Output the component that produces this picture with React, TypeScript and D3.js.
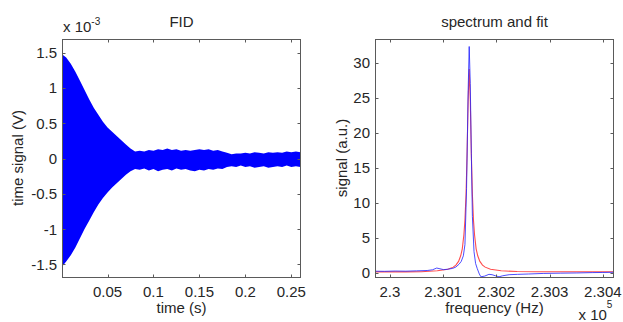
import React, { useEffect, useRef } from "react";
import * as d3 from "d3";

// FID envelope, time in s, signal in units of 1e-3 V
const fidTime = [
  0, 0.005, 0.01, 0.015, 0.02, 0.025, 0.03, 0.035, 0.04, 0.045, 0.05, 0.055, 0.06, 0.065, 0.07, 0.075, 0.08,
  0.085, 0.09, 0.095, 0.1, 0.105, 0.11, 0.115, 0.12, 0.125, 0.13, 0.135, 0.14, 0.145, 0.15, 0.155, 0.16,
  0.165, 0.17, 0.175, 0.18, 0.185, 0.19, 0.195, 0.2, 0.205, 0.21, 0.215, 0.22, 0.225, 0.23, 0.235, 0.24,
  0.245, 0.25, 0.255, 0.26,
];
const fidUpper = [
  1.48, 1.43, 1.34, 1.23, 1.1, 0.97, 0.84, 0.72, 0.62, 0.52, 0.44, 0.38, 0.32, 0.26, 0.2, 0.14, 0.1,
  0.11, 0.1, 0.12, 0.11, 0.13, 0.12, 0.14, 0.12, 0.13, 0.11, 0.12, 0.11, 0.12, 0.13, 0.12, 0.13,
  0.11, 0.12, 0.1, 0.08, 0.06, 0.07, 0.07, 0.08, 0.07, 0.09, 0.08, 0.07, 0.09, 0.08, 0.09, 0.08,
  0.1, 0.09, 0.1, 0.09,
];
const fidLower = [
  -1.54, -1.46, -1.37, -1.26, -1.13, -1.0, -0.88, -0.76, -0.65, -0.56, -0.48, -0.41, -0.35, -0.29, -0.23, -0.18, -0.15,
  -0.16, -0.14, -0.17, -0.15, -0.18, -0.16, -0.15, -0.17, -0.14, -0.16, -0.15, -0.17, -0.18, -0.16, -0.17, -0.15,
  -0.16, -0.14, -0.15, -0.12, -0.11, -0.12, -0.1, -0.12, -0.11, -0.13, -0.12, -0.11, -0.13, -0.12, -0.11, -0.12,
  -0.1, -0.12, -0.11, -0.12,
];
const fidXTicks = [0.05, 0.1, 0.15, 0.2, 0.25];
const fidYTicks = [-1.5, -1, -0.5, 0, 0.5, 1, 1.5];

// measured spectrum (blue)
const specFreq = [
  229972, 229990, 230010, 230030, 230050, 230070, 230080, 230088, 230094, 230101, 230110, 230118, 230124,
  230130, 230134, 230138, 230141, 230144, 230147, 230149, 230151, 230153, 230155, 230158, 230161, 230164,
  230168, 230171, 230178, 230186, 230192, 230198, 230205, 230212, 230224, 230240, 230260, 230288, 230320,
  230351, 230380, 230400, 230421,
];
const specValue = [
  0.2, 0.18, 0.22, 0.2, 0.25, 0.3, 0.4, 0.65, 0.55, 0.42, 0.5, 0.6, 0.8,
  1.2, 1.6, 2.4, 4, 12, 26, 32.3, 27, 17, 8, 3, 1.3, 0.6,
  -0.2, -0.6, -0.5, -0.25, -0.3, -0.45, -0.6, -0.45, -0.3, -0.25, -0.2, -0.12, -0.08,
  -0.05, 0, 0.02, 0.05,
];

// fitted line (red)
const fitFreq = [
  229972, 229999, 230029, 230059, 230089, 230109, 230119, 230124, 230129, 230133, 230136, 230139, 230141,
  230143, 230145, 230147, 230149, 230151, 230153, 230155, 230157, 230159, 230162, 230165, 230169, 230174,
  230179, 230189, 230209, 230239, 230279, 230329, 230379, 230421,
];
const fitValue = [
  0.1, 0.1, 0.1, 0.12, 0.26, 0.48, 0.78, 1.07, 1.6, 2.4, 3.4, 5.4, 7.5,
  11.1, 16.9, 24.6, 29.1, 24.6, 16.9, 11.1, 7.5, 5.4, 3.4, 2.4, 1.6, 1.07,
  0.78, 0.48, 0.26, 0.15, 0.13, 0.12, 0.12, 0.12,
];
const specXTicks = [230000, 230100, 230200, 230300, 230400];
const specYTicks = [0, 5, 10, 15, 20, 25, 30];

const W = 623;
const H = 322;
const FONT = "'Liberation Sans', Arial, sans-serif";
const FS = 15;
const TXT = "#262626";
const BOX = "#5a5a5a";

export default function App() {
  const ref = useRef<SVGSVGElement | null>(null);

  useEffect(() => {
    const svg = d3.select(ref.current);
    svg.selectAll("*").remove();

    const top = 39.5;
    const bottom = 277.5;

    // axes box with inward ticks on all four sides
    const drawFrame = (g: any, x: any, y: any, xt: number[], yt: number[], xfmt: (v: number) => string, yfmt: (v: number) => string) => {
      const [x0, x1] = x.range();
      const tl = 3;
      xt.forEach((v) => {
        const px = Math.round(x(v)) + 0.5;
        g.append("line").attr("x1", px).attr("x2", px).attr("y1", bottom).attr("y2", bottom - tl).attr("stroke", BOX);
        g.append("line").attr("x1", px).attr("x2", px).attr("y1", top).attr("y2", top + tl).attr("stroke", BOX);
        g.append("text")
          .attr("x", x(v))
          .attr("y", 296.5)
          .attr("text-anchor", "middle")
          .attr("font-size", FS)
          .attr("fill", TXT)
          .text(xfmt(v));
      });
      yt.forEach((v) => {
        const py = Math.round(y(v)) + 0.5;
        g.append("line").attr("x1", x0).attr("x2", x0 + tl).attr("y1", py).attr("y2", py).attr("stroke", BOX);
        g.append("line").attr("x1", x1).attr("x2", x1 - tl).attr("y1", py).attr("y2", py).attr("stroke", BOX);
        g.append("text")
          .attr("x", x0 - 5.5)
          .attr("y", y(v))
          .attr("dy", "0.36em")
          .attr("text-anchor", "end")
          .attr("font-size", FS)
          .attr("fill", TXT)
          .text(yfmt(v));
      });
      g.append("rect")
        .attr("x", x0)
        .attr("y", top)
        .attr("width", x1 - x0)
        .attr("height", bottom - top)
        .attr("fill", "none")
        .attr("stroke", BOX);
    };

    // ---- left: FID ----
    const xL = d3.scaleLinear().domain([0.001, 0.26]).range([62.5, 300.5]);
    const yL = d3.scaleLinear().domain([-1.685, 1.685]).range([bottom, top]);
    const gL = svg.append("g").attr("font-family", FONT);

    gL.append("clipPath").attr("id", "clipL").append("rect")
      .attr("x", 62.5).attr("y", top).attr("width", 238).attr("height", bottom - top);

    const fid = fidTime.map((t, i) => ({ t, hi: fidUpper[i], lo: fidLower[i] }));
    gL.append("path")
      .datum(fid)
      .attr("clip-path", "url(#clipL)")
      .attr("fill", "#0000ff")
      .attr("d", d3.area<any>().x((d) => xL(d.t)).y0((d) => yL(d.lo)).y1((d) => yL(d.hi)));

    drawFrame(gL, xL, yL, fidXTicks, fidYTicks, (v) => String(v), (v) => String(v));

    gL.append("text").attr("x", 181.5).attr("y", 26.5).attr("text-anchor", "middle")
      .attr("font-size", FS).attr("fill", TXT).text("FID");
    gL.append("text").attr("x", 181.5).attr("y", 313).attr("text-anchor", "middle")
      .attr("font-size", FS).attr("fill", TXT).text("time (s)");
    gL.append("text").attr("transform", "translate(23,158) rotate(-90)").attr("text-anchor", "middle")
      .attr("font-size", FS).attr("fill", TXT).text("time signal (V)");
    const eL = gL.append("text").attr("x", 63).attr("y", 32).attr("font-size", FS).attr("fill", TXT);
    eL.append("tspan").text("x 10");
    eL.append("tspan").attr("dy", -7).attr("font-size", 10).text("-3");

    // ---- right: spectrum and fit ----
    const xR = d3.scaleLinear().domain([229973, 230420]).range([375.5, 613.5]);
    const yR = d3.scaleLinear().domain([-0.7, 33.3]).range([bottom, top]);
    const gR = svg.append("g").attr("font-family", FONT);

    gR.append("clipPath").attr("id", "clipR").append("rect")
      .attr("x", 375.5).attr("y", top).attr("width", 238).attr("height", bottom - top);

    const line = d3.line<number[]>().x((d) => xR(d[0])).y((d) => yR(d[1]));
    gR.append("path")
      .datum(fitFreq.map((f, i) => [f, fitValue[i]]))
      .attr("clip-path", "url(#clipR)")
      .attr("fill", "none")
      .attr("stroke", "#ff2020")
      .attr("stroke-opacity", 0.8)
      .attr("stroke-width", 1.1)
      .attr("d", line);
    gR.append("path")
      .datum(specFreq.map((f, i) => [f, specValue[i]]))
      .attr("clip-path", "url(#clipR)")
      .attr("fill", "none")
      .attr("stroke", "#2020ff")
      .attr("stroke-opacity", 0.8)
      .attr("stroke-width", 1)
      .attr("d", line);

    drawFrame(gR, xR, yR, specXTicks, specYTicks, (v) => String(+(v / 1e5).toFixed(3)), (v) => String(v));

    gR.append("text").attr("x", 494.5).attr("y", 26.5).attr("text-anchor", "middle")
      .attr("font-size", FS).attr("fill", TXT).text("spectrum and fit");
    gR.append("text").attr("x", 494.5).attr("y", 313).attr("text-anchor", "middle")
      .attr("font-size", FS).attr("fill", TXT).text("frequency (Hz)");
    gR.append("text").attr("transform", "translate(347,158) rotate(-90)").attr("text-anchor", "middle")
      .attr("font-size", FS).attr("fill", TXT).text("signal (a.u.)");
    const eR = gR.append("text").attr("x", 578.5).attr("y", 320).attr("font-size", FS).attr("fill", TXT);
    eR.append("tspan").text("x 10");
    eR.append("tspan").attr("dy", -12).attr("font-size", 10).text("5");
  }, []);

  return (
    <svg
      ref={ref}
      width={W}
      height={H}
      style={{ position: "absolute", left: 0, top: 0, background: "#fff" }}
    />
  );
}
